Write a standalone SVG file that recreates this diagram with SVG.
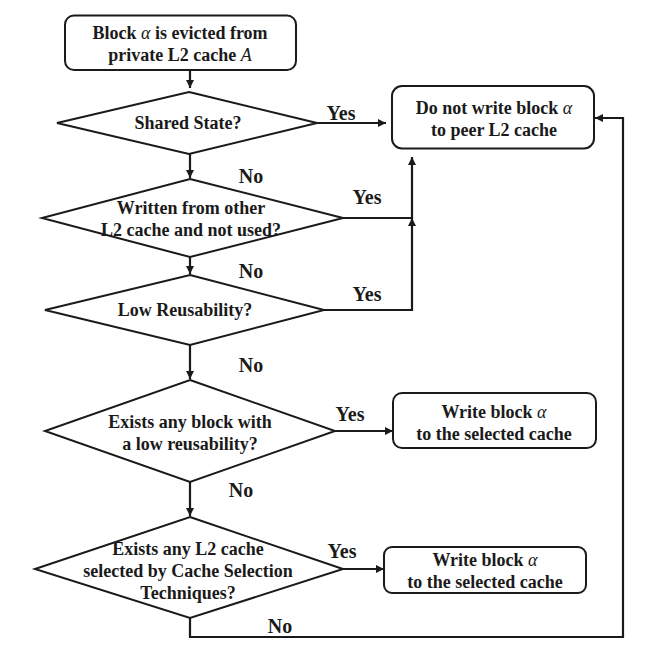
<svg xmlns="http://www.w3.org/2000/svg" width="657" height="653" viewBox="0 0 657 653">
<defs>
<style>
.box{fill:#fff;stroke:#1a1a1a;stroke-width:2}
.dia{fill:#fff;stroke:#1a1a1a;stroke-width:2}
.t{font-family:"Liberation Serif","Times New Roman",serif;font-weight:bold;font-size:18px;fill:#1a1a1a;text-anchor:middle}
.lbl{font-family:"Liberation Serif","Times New Roman",serif;font-weight:bold;font-size:20px;fill:#1a1a1a;text-anchor:middle}
.it{font-style:italic;font-weight:normal}
.con{fill:none;stroke:#1a1a1a;stroke-width:2.2}
</style>
<marker id="ah" viewBox="0 0 10 10" refX="10" refY="5" markerWidth="9" markerHeight="8" markerUnits="userSpaceOnUse" orient="auto">
<path d="M0,0 L10,5 L0,10 z" fill="#1a1a1a"/>
</marker>
</defs>
<rect width="657" height="653" fill="#fff"/>
<g id="connectors">
<path class="con" d="M190,70 V88" marker-end="url(#ah)"/>
<path class="con" d="M317,123 H386" marker-end="url(#ah)"/>
<path class="con" d="M190,154 V178" marker-end="url(#ah)"/>
<path class="con" d="M343,218 H412 V157" marker-end="url(#ah)"/>
<path class="con" d="M190,257 V274" marker-end="url(#ah)"/>
<path class="con" d="M324,310 H412 V218" marker-end="url(#ah)"/>
<path class="con" d="M190,345 V379" marker-end="url(#ah)"/>
<path class="con" d="M335,431 H393" marker-end="url(#ah)"/>
<path class="con" d="M190,482 V516" marker-end="url(#ah)"/>
<path class="con" d="M343,569 H384" marker-end="url(#ah)"/>
<path class="con" d="M190,618 V637 H623 V118 H595" marker-end="url(#ah)"/>
<text class="lbl" x="341" y="120">Yes</text>
<text class="lbl" x="251" y="183">No</text>
<text class="lbl" x="367" y="204">Yes</text>
<text class="lbl" x="251" y="278">No</text>
<text class="lbl" x="367" y="301">Yes</text>
<text class="lbl" x="251" y="372">No</text>
<text class="lbl" x="350" y="421">Yes</text>
<text class="lbl" x="241" y="497">No</text>
<text class="lbl" x="342" y="558">Yes</text>
<text class="lbl" x="280" y="633">No</text>
</g>
<g id="start">
<rect class="box" x="65" y="15.5" width="231" height="54.5" rx="9"/>
<text class="t" x="180" y="39">Block <tspan class="it">α</tspan> is evicted from</text>
<text class="t" x="180" y="61">private L2 cache <tspan class="it">A</tspan></text>
</g>
<g id="d1">
<polygon class="dia" points="189,92 317,123 189,154 57,123"/>
<text class="t" x="188" y="129">Shared State?</text>
</g>
<g id="noWrite">
<rect class="box" x="392" y="86" width="202" height="62.5" rx="10"/>
<text class="t" x="494" y="114">Do not write block <tspan class="it">α</tspan></text>
<text class="t" x="494" y="136">to peer L2 cache</text>
</g>
<g id="d2">
<polygon class="dia" points="190,179 343,218 190,257 42,218"/>
<text class="t" x="191" y="214">Written from other</text>
<text class="t" x="191" y="236">L2 cache and not used?</text>
</g>
<g id="d3">
<polygon class="dia" points="190,275 324,310 190,345 45,310"/>
<text class="t" x="185" y="316">Low Reusability?</text>
</g>
<g id="d4">
<polygon class="dia" points="190,380 335,431 190,482 45,431"/>
<text class="t" x="190" y="428">Exists any block with</text>
<text class="t" x="190" y="450">a low reusability?</text>
</g>
<g id="write1">
<rect class="box" x="393" y="393" width="203" height="55" rx="9"/>
<text class="t" x="494" y="418">Write block <tspan class="it">α</tspan></text>
<text class="t" x="494" y="440">to the selected cache</text>
</g>
<g id="d5">
<polygon class="dia" points="190,517 343,569 190,618 35,569"/>
<text class="t" x="188" y="555">Exists any L2 cache</text>
<text class="t" x="188" y="577">selected by Cache Selection</text>
<text class="t" x="188" y="599">Techniques?</text>
</g>
<g id="write2">
<rect class="box" x="384" y="547" width="202" height="46" rx="8"/>
<text class="t" x="485" y="566">Write block <tspan class="it">α</tspan></text>
<text class="t" x="485" y="588">to the selected cache</text>
</g>
</svg>
